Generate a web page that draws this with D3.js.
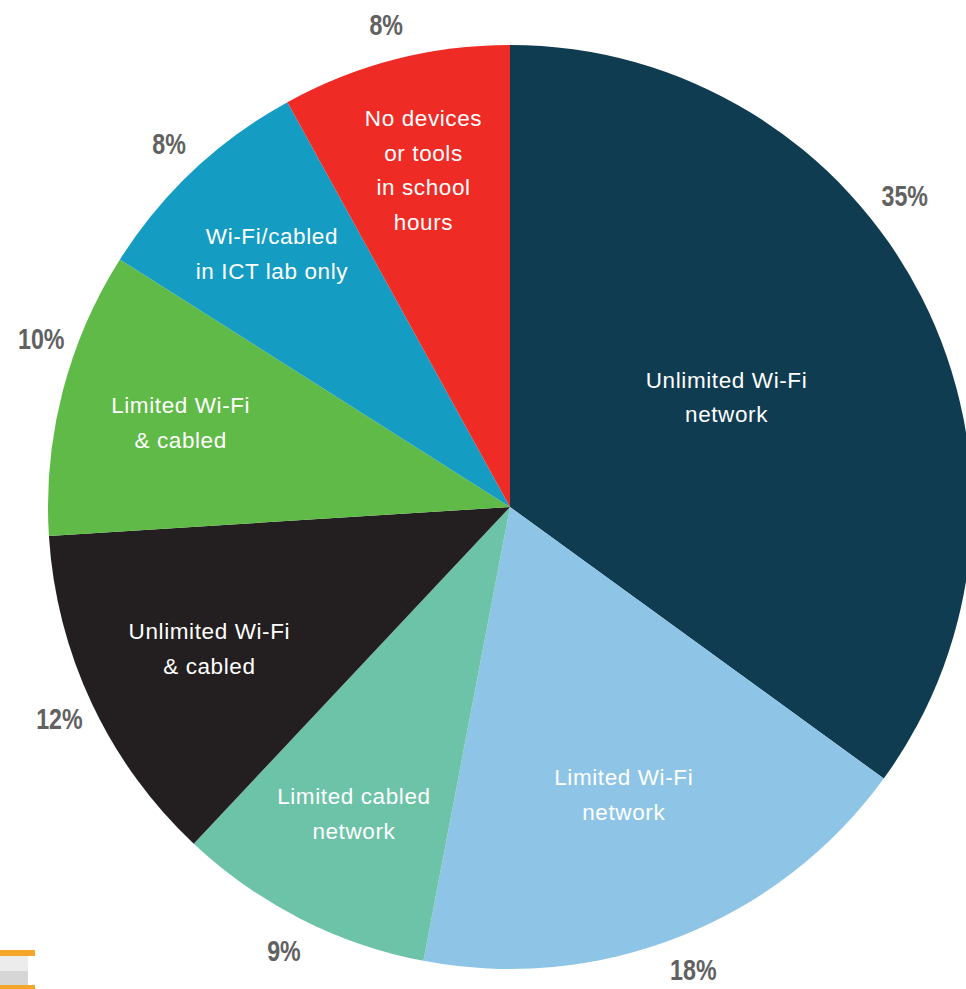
<!DOCTYPE html>
<html>
<head>
<meta charset="utf-8">
<script src="https://cdn.jsdelivr.net/npm/d3@7"></script>
<style>
  html, body { margin: 0; padding: 0; background: #ffffff; }
  svg { display: block; }
</style>
</head>
<body>
<svg id="chart" width="966" height="989"></svg>
<script>
// Connectivity categories, clockwise from 12 o'clock
const categories = [
  "Unlimited Wi-Fi network",
  "Limited Wi-Fi network",
  "Limited cabled network",
  "Unlimited Wi-Fi & cabled",
  "Limited Wi-Fi & cabled",
  "Wi-Fi/cabled in ICT lab only",
  "No devices or tools in school hours"
];
// Line breaks used for the in-slice labels
const labelLines = [
  ["Unlimited Wi-Fi", "network"],
  ["Limited Wi-Fi", "network"],
  ["Limited cabled", "network"],
  ["Unlimited Wi-Fi", "& cabled"],
  ["Limited Wi-Fi", "& cabled"],
  ["Wi-Fi/cabled", "in ICT lab only"],
  ["No devices", "or tools", "in school", "hours"]
];
// Share of schools, percent
const shares = [35, 18, 9, 12, 10, 8, 8];
const colors = ["#0f3c51", "#8ec5e7", "#6dc3a7", "#231f20", "#5fba47", "#159cc2", "#ee2b25"];

const W = 966, H = 989;
const cx = 510, cy = 507, R = 462;

const svg = d3.select("#chart");

const data = categories.map((c, i) => ({ category: c, lines: labelLines[i], value: shares[i], color: colors[i] }));

const pie = d3.pie().value(d => d.value).sort(null);
const arcs = pie(data);
const arc = d3.arc().innerRadius(0).outerRadius(R);

const g = svg.append("g").attr("transform", `translate(${cx},${cy})`);

g.selectAll("path.slice")
  .data(arcs)
  .join("path")
  .attr("class", "slice")
  .attr("d", arc)
  .attr("fill", d => d.data.color);

// In-slice labels: narrower slices push their label further out
const total = d3.sum(shares);
const lineH = 34.5;
g.selectAll("text.inner")
  .data(arcs)
  .join("text")
  .attr("class", "inner")
  .attr("font-family", "'Liberation Sans', Arial, sans-serif")
  .attr("font-size", 22.5)
  .attr("letter-spacing", 0.6)
  .attr("fill", "#ffffff")
  .attr("text-anchor", "middle")
  .each(function (d) {
    const share = d.data.value / total;
    const rr = R * (0.82 - 0.84 * share);
    const a = (d.startAngle + d.endAngle) / 2;
    const x = rr * Math.sin(a), y = -rr * Math.cos(a);
    const n = d.data.lines.length;
    d3.select(this).selectAll("tspan")
      .data(d.data.lines)
      .join("tspan")
      .attr("x", x)
      .attr("y", (_, i) => y + (i - (n - 1) / 2) * lineH)
      .attr("dy", "0.36em")
      .text(t => t);
  });

// Percentage labels outside the rim, condensed, slid along the rim to stay on the page
const outerR = R + 36;
const squeeze = 0.8;
const rightLimit = W - cx - 38;
const leftLimit = -cx + 18;
g.selectAll("text.pct")
  .data(arcs)
  .join("text")
  .attr("class", "pct")
  .attr("font-family", "'Liberation Sans', Arial, sans-serif")
  .attr("font-weight", "bold")
  .attr("font-size", 29)
  .attr("fill", "#616161")
  .attr("text-anchor", "middle")
  .attr("dy", "0.36em")
  .text(d => d3.format("d")(d.data.value) + "%")
  .each(function (d) {
    const half = this.getComputedTextLength() * squeeze / 2;
    let a = (d.startAngle + d.endAngle) / 2;
    let r = outerR;
    let x = r * Math.sin(a);
    if (x + half > rightLimit) {
      r = outerR + 5;
      a = Math.asin((rightLimit - half) / r);
    } else if (x - half < leftLimit) {
      a = 2 * Math.PI + Math.asin((leftLimit + half) / r);
    }
    x = r * Math.sin(a);
    const y = -r * Math.cos(a);
    d3.select(this).attr("transform", `translate(${x},${y}) scale(${squeeze},1)`);
  });

// Small page ornament in the lower-left corner
const orn = svg.append("g");
orn.append("rect").attr("x", 0).attr("y", 956).attr("width", 28).attr("height", 15).attr("fill", "#ececec");
orn.append("rect").attr("x", 0).attr("y", 971).attr("width", 28).attr("height", 14).attr("fill", "#d6d6d6");
orn.append("rect").attr("x", 0).attr("y", 950).attr("width", 35).attr("height", 6).attr("fill", "#f4a62a");
orn.append("rect").attr("x", 0).attr("y", 985).attr("width", 35).attr("height", 4).attr("fill", "#f4a62a");
</script>
</body>
</html>
